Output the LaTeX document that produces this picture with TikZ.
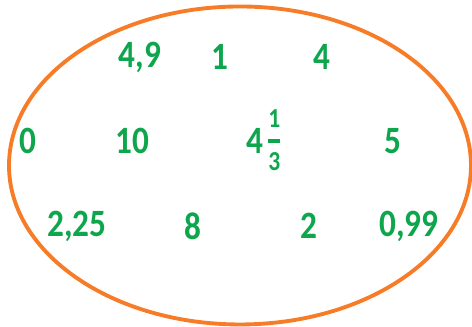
\documentclass[tikz,border=0pt]{standalone}
\usepackage{fontspec}
\setmainfont{Carlito}[FakeStretch=0.86]
\usepackage{tikz}
\usetikzlibrary{positioning}

\definecolor{setorange}{RGB}{247,124,40}
\definecolor{numgreen}{RGB}{14,166,76}

\tikzset{
  num/.style={text=numgreen, font=\bfseries\fontsize{11}{13}\selectfont, inner sep=1pt},
  frac/.style={num, font=\bfseries\fontsize{7.8}{11.2}\selectfont, inner sep=0pt}
}

\begin{document}
\begin{tikzpicture}
  \useasboundingbox (0,0) rectangle (4.72,3.27);

  % Set boundary
  \draw[setorange, line width=1.1pt] (2.40,1.615) ellipse [x radius=2.31, y radius=1.59];

  % Top row
  \foreach \x/\name/\val in {1.40/a/{4,9}, 2.20/b/1, 3.22/c/4} {
    \node[num] (\name) at (\x,2.70) {\val};
  }

  % Middle row
  \foreach \x/\name/\val in {0.28/d/0, 1.32/e/10, 3.93/g/5} {
    \node[num] (\name) at (\x,1.86) {\val};
  }
  \node[num] (f) at (2.55,1.86) {4};
  \node[frac, right=0pt of f] (f13) {\color{numgreen}\setlength{\arrayrulewidth}{1pt}\begin{tabular}{@{}c@{}}1\\\hline 3\end{tabular}};

  % Bottom row
  \foreach \x/\name/\val in {0.77/h/{2,25}, 1.93/i/8, 3.09/j/2, 4.09/k/{0,99}} {
    \node[num] (\name) at (\x,1.01) {\val};
  }
\end{tikzpicture}
\end{document}
